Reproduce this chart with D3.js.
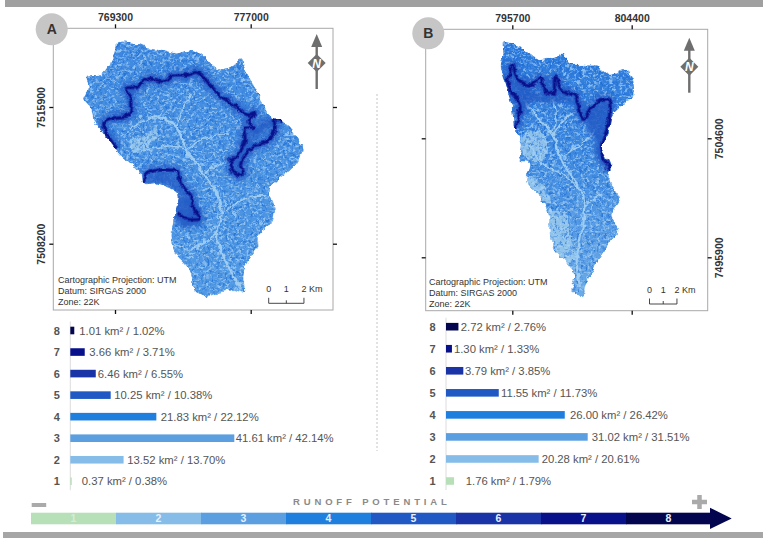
<!DOCTYPE html>
<html>
<head>
<meta charset="utf-8">
<script src="https://cdn.jsdelivr.net/npm/d3@7"></script>
<style>
  html, body { margin: 0; padding: 0; background: #fff; }
  svg { display: block; }
  text { font-family: "Liberation Sans", Arial, sans-serif; }
  .tick-label { font-size: 10.5px; font-weight: bold; fill: #333; }
  .note { font-size: 9px; fill: #333; }
  .bar-label { font-size: 11.3px; fill: #555; }
  .class-label { font-size: 11px; font-weight: bold; fill: #555; text-anchor: middle; }
</style>
</head>
<body>
<div id="chart"></div>
<script>
// classes, highest first (same order as the bars read top to bottom)
let classes = ["8", "7", "6", "5", "4", "3", "2", "1"];
let classColors = ["#03064f", "#08108a", "#1a34a8", "#2159c4", "#1f7fdf", "#5b9fe0", "#85bde8", "#b8e0b8"];

let areaA = [1.01, 3.66, 6.46, 10.25, 21.83, 41.61, 13.52, 0.37];
let shareA = [1.02, 3.71, 6.55, 10.38, 22.12, 42.14, 13.70, 0.38];
let areaB = [2.72, 1.30, 3.79, 11.55, 26.00, 31.02, 20.28, 1.76];
let shareB = [2.76, 1.33, 3.85, 11.73, 26.42, 31.51, 20.61, 1.79];

let eastTicksA = [769300, 777000];
let northTicksA = [7515900, 7508200];
let eastTicksB = [795700, 804400];
let northTicksB = [7504600, 7495900];

let notes = ["Cartographic Projection: UTM", "Datum: SIRGAS 2000", "Zone: 22K"];

// map features, km east / north of the first tick crossing
let outlineA = [[.09,3.63],[1.04,3.63],[1.8,3.4],[2.74,3.21],[3.5,3.03],[4.25,3.21],[4.82,3.03],[5.76,2.18],[6.52,2.18],[7.18,2.74],[7.37,1.99],[8.03,.96],[8.41,.02],[8.88,-.55],[9.54,-.83],[10.11,-1.39],[10.64,-2.43],[10.3,-3.18],[9.73,-3.74],[9.07,-4.3],[8.79,-4.68],[9.07,-5.81],[8.88,-6.56],[8.13,-7.22],[8.13,-7.88],[7.56,-8.63],[7.28,-9.57],[7.37,-10.42],[6.71,-10.32],[5.76,-10.51],[5.29,-10.66],[4.44,-10.32],[4.35,-9.57],[3.97,-8.91],[3.4,-8.25],[3.21,-7.13],[3.4,-6],[3.59,-4.96],[3.12,-4.59],[2.36,-4.31],[1.61,-4.31],[1.42,-3.74],[.66,-2.99],[.09,-2.43],[-.66,-1.49],[-1.13,-.92],[-1.42,.02],[-1.8,.39],[-1.51,1.15],[-1.61,1.67],[-.85,1.8],[-.28,2.46],[0,3.21]];
let ridgesA = [
  [[.09,-2.33],[-.47,-1.49],[-.62,-.83],[.09,-.58],[.76,-.45],[.95,.3],[.66,1.05],[1.23,1.11],[1.98,1.62],[2.74,1.43],[3.31,1.8],[4.06,1.8],[4.73,1.94],[5.39,1.24],[6.05,.58],[6.9,.02],[7.56,-.45],[7.94,-.32],[7.56,-.83],[7.84,-1.2],[7.37,-1.2],[7.37,-1.96],[6.9,-2.8],[6.52,-3.18],[6.99,-3.84],[7.28,-3.74],[7.18,-3.18],[7.84,-2.24],[8.6,-1.96],[9.07,-1.3],[9.07,-.7],[9.45,-.83]],
  [[1.61,-4.21],[1.8,-3.74],[2.74,-3.55],[3.5,-3.65],[3.78,-4.4],[4.35,-5.06],[4.44,-5.72],[4.82,-6.28],[3.97,-6.28],[3.59,-6]]
];
let deepA = [
  [[1.7,-4.2],[2.8,-3.7],[3.6,-4.4],[3.8,-5],[2.9,-4.4]],
  [[3.5,-5],[4.4,-5.1],[4.9,-6.3],[4.3,-6.8],[3.4,-6.4]],
  [[7.4,-2],[8.6,-1.3],[9,-.8],[8.4,-.6],[7.9,-1.2]]
];
let drainsA = [
  [[2.36,-.45],[3.5,-1.2],[4.06,-2.43],[5.01,-3.74],[5.76,-4.87],[6.05,-6],[5.76,-7.13],[6.33,-8.82],[7.18,-10.32]],
  [[4.06,-2.43],[5.3,-1.7],[6.5,-1.5]],
  [[6.05,-6],[7.3,-5.2],[8.6,-5]],
  [[3,-7.5],[4.2,-8],[5.76,-7.13]],
  [[3.5,-1.2],[3.9,0],[4.3,.8]],
  [[.8,-1.2],[2.36,-.45]],
  [[1.5,-2.5],[3.2,-2.2],[4.06,-2.43]],
  [[5.01,-3.74],[6.4,-3]]
];
let patchesA = [
  [[.85,-1.86],[1.61,-1.67],[2.36,-1.2],[2.36,-1.58],[1.8,-2.33],[1.04,-2.61]]
];

let outlineB = [[-.66,7],[.56,6.71],[1.29,6.22],[1.9,5.73],[2.99,5.98],[3.84,6.17],[4.08,5.49],[5.18,5.37],[6.15,5.25],[7.12,4.64],[8.21,5],[8.7,4.39],[8.7,3.05],[8.21,2.56],[7.36,1.83],[7,.37],[6.51,-.61],[7.12,-1.83],[7.12,-3.17],[7.85,-4.39],[7.24,-5.49],[7.73,-6.83],[7.24,-7.44],[6.39,-8.66],[5.78,-9.88],[5.3,-10.86],[5.18,-11.59],[4.33,-11.1],[4.57,-10.13],[3.96,-9.15],[2.87,-7.69],[2.62,-5.49],[2.02,-4.27],[1.04,-3.17],[1.04,-2.81],[1.29,-1.83],[.56,-1.59],[.68,-.37],[.19,.61],[-.05,2.32],[-.41,3.78],[-.85,5.25],[-.66,6.22]];
let ridgesB = [
  [[.19,.73],[.56,2.32],[-.29,3.9],[.02,5.37],[.44,4.27],[1.29,3.9],[2.14,4.39],[2.38,3.42],[2.99,3.29],[3.11,4.39],[3.6,3.54],[4.57,3.05],[5.18,1.46],[6.15,2.68],[7,2.81],[7,1.1],[6.51,-.61],[7.12,-2.32]]
];
let deepB = [
  [[5.4,1.3],[6.2,2.5],[6.9,2.6],[6.8,1.2],[6.3,-.5],[5.7,.4]],
  [[5.9,-.6],[6.5,-.7],[7,-2.1],[6.2,-1.5]],
  [[.3,1],[.6,2.4],[.2,3.8],[.3,4.2],[1.3,3.6],[2.5,3.1],[3.6,3.2],[4.5,2.7],[3,2.6],[1.5,2.6]]
];
let drainsB = [
  [[.8,2.81],[1.77,1.59],[2.99,.12],[3.47,-1.34],[4.93,-3.78],[5.3,-5],[4.93,-7.44],[4.69,-8.91],[4.93,-10.86]],
  [[2.99,.12],[3.9,1.5],[5,2]],
  [[3.47,-1.34],[5,-.5],[6,.5]],
  [[1.2,-.5],[2.3,-2],[3.47,-2.5],[4.93,-3.78]],
  [[5.3,-5],[6.5,-4]],
  [[2.99,3],[3.2,1.5],[2.99,.12]]
];
let patchesB = [
  [[1.04,.49],[2.26,.37],[2.5,-1.34],[1.04,-1.59],[.68,-.61]],
  [[1.17,-2.81],[2.26,-3.54],[2.75,-4.76],[2.02,-4.27],[1.04,-3.17]],
  [[2.75,-5.25],[3.96,-5.73],[4.2,-7.44],[4.69,-8.66],[3.96,-9.15],[2.87,-7.69]]
];

let width = 767, height = 540;

let svg = d3.select("#chart")
    .append("svg")
    .attr("width", width)
    .attr("height", height);

let defs = svg.append("defs");

// rough edges and relief texture for the runoff rasters
let rough = defs.append("filter").attr("id", "rough")
    .attr("color-interpolation-filters", "sRGB")
    .attr("x", "-5%").attr("y", "-5%").attr("width", "110%").attr("height", "110%");
rough.append("feTurbulence").attr("type", "fractalNoise").attr("baseFrequency", 0.13)
    .attr("numOctaves", 3).attr("seed", 4).attr("result", "n");
rough.append("feDisplacementMap").attr("in", "SourceGraphic").attr("in2", "n")
    .attr("scale", 6).attr("xChannelSelector", "R").attr("yChannelSelector", "G");
rough.append("feGaussianBlur").attr("stdDeviation", 0.35);

function grain(id, color, freq, seed, slope, offset) {
    let c = d3.color(color);
    let f = defs.append("filter").attr("id", id)
        .attr("color-interpolation-filters", "sRGB")
        .attr("x", 0).attr("y", 0).attr("width", "100%").attr("height", "100%");
    f.append("feTurbulence").attr("type", "fractalNoise").attr("baseFrequency", freq)
        .attr("numOctaves", 2).attr("seed", seed);
    f.append("feColorMatrix").attr("type", "matrix")
        .attr("values", `0 0 0 0 ${c.r / 255} 0 0 0 0 ${c.g / 255} 0 0 0 0 ${c.b / 255} ${slope} 0 0 0 ${offset}`);
}
grain("grainLight", "#a9d3f5", "0.3 0.42", 9, 4, -1.9);
grain("grainDark", "#1a68d2", "0.4 0.3", 21, 4, -1.95);

let gradA = defs.append("linearGradient").attr("id", "fillA").attr("x1", 0).attr("x2", 0).attr("y1", 0).attr("y2", 1);
gradA.append("stop").attr("offset", "0%").attr("stop-color", "#3f89e0");
gradA.append("stop").attr("offset", "100%").attr("stop-color", "#529ae4");
let gradB = defs.append("linearGradient").attr("id", "fillB").attr("x1", 0).attr("x2", 0).attr("y1", 0).attr("y2", 1);
gradB.append("stop").attr("offset", "0%").attr("stop-color", "#2a78dc");
gradB.append("stop").attr("offset", "45%").attr("stop-color", "#3f8ae0");
gradB.append("stop").attr("offset", "100%").attr("stop-color", "#6cabe8");

// page rules
svg.append("rect").attr("x", 5).attr("y", 0).attr("width", 758).attr("height", 7).attr("fill", "#a0a0a0");
svg.append("rect").attr("x", 3).attr("y", 532).attr("width", 760).attr("height", 6).attr("fill", "#a6a6a6");

// divider between the two panels
svg.append("line")
    .attr("x1", 377).attr("x2", 377).attr("y1", 94).attr("y2", 451)
    .attr("stroke", "#c4c4c4").attr("stroke-dasharray", "2,2");

function drawMap(o) {
    let x = d3.scaleLinear().domain(o.eastTicks).range(o.xPx);
    let y = d3.scaleLinear().domain(o.northTicks).range(o.yPx);
    // feature arrays are km from the first tick
    let kmX = d3.scaleLinear().domain([0, (o.eastTicks[1] - o.eastTicks[0]) / 1000]).range(o.xPx);
    let kmY = d3.scaleLinear().domain([0, -(o.northTicks[0] - o.northTicks[1]) / 1000]).range(o.yPx);
    let f = o.frame;

    let g = svg.append("g");

    let line = d3.line().x(d => kmX(d[0])).y(d => kmY(d[1])).curve(d3.curveCatmullRom);
    let closed = d3.line().x(d => kmX(d[0])).y(d => kmY(d[1])).curve(d3.curveCatmullRomClosed);

    defs.append("clipPath").attr("id", "clip" + o.id)
        .append("path").attr("d", closed(o.outline));
    defs.append("filter").attr("id", "halo" + o.id)
        .attr("filterUnits", "userSpaceOnUse")
        .attr("x", f.x0).attr("y", f.y0).attr("width", f.x1 - f.x0).attr("height", f.y1 - f.y0)
        .append("feGaussianBlur").attr("stdDeviation", 2.6);

    let raster = g.append("g").attr("filter", "url(#rough)")
        .append("g").attr("clip-path", "url(#clip" + o.id + ")");

    raster.append("path").attr("d", closed(o.outline)).attr("fill", "url(#fill" + o.id + ")");

    raster.selectAll(".patch").data(o.patches).enter().append("path")
        .attr("class", "patch").attr("d", d => closed(d))
        .attr("fill", "#96c8ec").attr("opacity", 0.9);

    raster.append("rect").attr("x", f.x0).attr("y", f.y0)
        .attr("width", f.x1 - f.x0).attr("height", f.y1 - f.y0)
        .attr("filter", "url(#grainDark)").attr("opacity", 0.65);
    raster.append("rect").attr("x", f.x0).attr("y", f.y0)
        .attr("width", f.x1 - f.x0).attr("height", f.y1 - f.y0)
        .attr("filter", "url(#grainLight)").attr("opacity", 0.75);

    raster.selectAll(".drain").data(o.drains).enter().append("path")
        .attr("class", "drain").attr("d", d => line(d)).attr("fill", "none")
        .attr("stroke", "#9fcdf2").attr("stroke-width", (d, i) => i == 0 ? 2.2 : 1.4);

    raster.selectAll(".deep").data(o.deep).enter().append("path")
        .attr("class", "deep").attr("d", d => closed(d))
        .attr("fill", classColors[3]).attr("opacity", 0.8)
        .attr("filter", "url(#halo" + o.id + ")");
    raster.selectAll(".halo").data(o.ridges).enter().append("path")
        .attr("class", "halo").attr("d", d => line(d)).attr("fill", "none")
        .attr("stroke", classColors[3]).attr("stroke-width", 10).attr("opacity", 0.85)
        .attr("filter", "url(#halo" + o.id + ")");
    raster.selectAll(".ridge6").data(o.ridges).enter().append("path")
        .attr("class", "ridge6").attr("d", d => line(d)).attr("fill", "none")
        .attr("stroke", classColors[2]).attr("stroke-width", 4);
    raster.selectAll(".ridge8").data(o.ridges).enter().append("path")
        .attr("class", "ridge8").attr("d", d => line(d)).attr("fill", "none")
        .attr("stroke", classColors[1]).attr("stroke-width", 1.8);

    // frame
    g.append("rect").attr("x", f.x0).attr("y", f.y0)
        .attr("width", f.x1 - f.x0).attr("height", f.y1 - f.y0)
        .attr("fill", "none").attr("stroke", "#a8a8a8").attr("stroke-width", 1);

    // graticule ticks on the four sides
    let axes = [
        [d3.axisTop(x).tickValues(o.eastTicks), 0, f.y0, true],
        [d3.axisBottom(x).tickValues(o.eastTicks), 0, f.y1, false],
        [d3.axisLeft(y).tickValues(o.northTicks), f.x0, 0, o.labelSide == "left"],
        [d3.axisRight(y).tickValues(o.northTicks), f.x1, 0, o.labelSide == "right"]
    ];
    axes.forEach(a => {
        let ax = g.append("g")
            .attr("transform", "translate(" + a[1] + "," + a[2] + ")")
            .call(a[0].tickSize(4).tickPadding(3).tickFormat(d3.format("d")));
        ax.select(".domain").remove();
        ax.selectAll("line").attr("stroke", "#111").attr("stroke-width", 1.3);
        if (!a[3]) ax.selectAll("text").remove();
        ax.selectAll("text")
            .attr("class", "tick-label");
    });
    // northing labels read sideways
    g.selectAll("text.tick-label")
        .filter(d => o.northTicks.includes(d))
        .attr("text-anchor", "middle").attr("dy", null)
        .attr("x", null).attr("y", null)
        .attr("transform", "translate(" + (o.labelSide == "left" ? -12.5 : 11.5) + ",0) rotate(-90)")
        .attr("dominant-baseline", "central");

    // badge
    g.append("circle").attr("cx", o.badge[0]).attr("cy", o.badge[1]).attr("r", 16).attr("fill", "#c6c6c6");
    g.append("text").attr("x", o.badge[0]).attr("y", o.badge[1] + 5)
        .attr("text-anchor", "middle").attr("font-size", 14).attr("font-weight", "bold").attr("fill", "#333")
        .text(o.id);

    // north arrow
    let n = o.north;
    let arrow = g.append("g").attr("transform", "translate(" + n[0] + "," + n[1] + ")");
    arrow.append("line").attr("y1", -22).attr("y2", 26).attr("stroke", "#6e6e6e").attr("stroke-width", 2.4);
    arrow.append("path").attr("d", "M0,-29L5.5,-16L-5.5,-16Z").attr("fill", "#6e6e6e");
    arrow.append("path").attr("d", "M0,-9L9,0L0,9L-9,0Z").attr("fill", "#6e6e6e");
    arrow.append("text").attr("y", 4.5).attr("text-anchor", "middle")
        .attr("font-size", 12).attr("font-weight", "bold").attr("font-style", "italic").attr("fill", "#fff")
        .text("N");

    // notes
    g.selectAll(".note").data(notes).enter().append("text")
        .attr("class", "note")
        .attr("x", o.noteX)
        .attr("y", (d, i) => o.noteY + i * 11)
        .text(d => d);

    // scale bar, uses the map scale
    let bar = kmX.copy().domain([0, 1]).range([0, kmX(1) - kmX(0)]);
    let sb = g.append("g").attr("transform", "translate(" + o.scaleBar[0] + "," + o.scaleBar[1] + ")");
    sb.append("path")
        .attr("d", "M0,-5.5V0H" + bar(2) + "V-5.5M" + bar(1) + ",0V-3")
        .attr("fill", "none").attr("stroke", "#333").attr("stroke-width", 0.9);
    sb.selectAll("text").data([0, 1, 2]).enter().append("text")
        .attr("x", d => bar(d)).attr("y", -11)
        .attr("text-anchor", "middle").attr("font-size", 9).attr("fill", "#333")
        .text(d => d);
    sb.append("text").attr("x", bar(2) + 5).attr("y", -11).attr("font-size", 9).attr("fill", "#333").text("Km");
}

drawMap({
    id: "A", eastTicks: eastTicksA, northTicks: northTicksA,
    xPx: [115, 250.7], yPx: [107, 243.7],
    frame: {x0: 53.3, y0: 28.3, x1: 333, y1: 310},
    labelSide: "left", badge: [51.7, 29.3], north: [316.7, 63],
    noteX: 58, noteY: 283, scaleBar: [268.7, 303.3],
    outline: outlineA, ridges: ridgesA, deep: deepA, drains: drainsA, patches: patchesA
});

drawMap({
    id: "B", eastTicks: eastTicksB, northTicks: northTicksB,
    xPx: [512.3, 631.7], yPx: [138.3, 257.3],
    frame: {x0: 425.7, y0: 29.3, x1: 707.7, y1: 310.7},
    labelSide: "right", badge: [428.3, 33.3], north: [689.3, 66.7],
    noteX: 429, noteY: 285, scaleBar: [649.5, 304],
    outline: outlineB, ridges: ridgesB, deep: deepB, drains: drainsB, patches: patchesB
});

function drawBars(o) {
    let x = d3.scaleLinear().domain([0, o.max]).range([o.x0, o.x1]);
    let y = d3.scalePoint().domain(classes).range(o.yRange);
    let g = svg.append("g");

    g.append("line")
        .attr("x1", o.x0).attr("x2", o.x0).attr("y1", o.yRange[0] - 9).attr("y2", o.yRange[1] + 9)
        .attr("stroke", "#dcdcdc");

    g.selectAll(".class-label").data(classes).enter().append("text")
        .attr("class", "class-label")
        .attr("x", o.x0 - 13.5)
        .attr("y", d => y(d) + 4)
        .text(d => d);

    g.selectAll(".bar").data(o.area).enter().append("rect")
        .attr("class", "bar")
        .attr("x", o.x0)
        .attr("y", (d, i) => y(classes[i]) - 3.8)
        .attr("width", d => x(d) - o.x0)
        .attr("height", 7.6)
        .attr("fill", (d, i) => classColors[i]);

    g.selectAll(".bar-label").data(o.area).enter().append("text")
        .attr("class", "bar-label")
        .attr("x", (d, i) => x(d) + o.gaps[i])
        .attr("y", (d, i) => y(classes[i]) + 4)
        .text((d, i) => d.toFixed(2) + " km² / " + o.share[i].toFixed(2) + "%");
}

drawBars({area: areaA, share: shareA, max: 41.61, x0: 70.3, x1: 234.3, yRange: [330.5, 481.3],
    gaps: [5, 4.6, 2, 3.6, 4.4, 1.4, 3.7, 10]});
drawBars({area: areaB, share: shareB, max: 31.02, x0: 446, x1: 587.7, yRange: [326.7, 481],
    gaps: [2.3, 2, 1.7, 2.2, 5.2, 4, 3, 11.7]});

// legend ramp, low to high
let ramp = classes.slice().reverse();
let rampX = d3.scaleBand().domain(ramp).range([31, 711]);
let rampColor = d3.scaleOrdinal().domain(classes).range(classColors);
let legend = svg.append("g");

legend.append("path")
    .attr("d", "M" + (rampX.range()[1] - 1) + ",507.7L731.7,518.5L" + (rampX.range()[1] - 1) + ",529Z")
    .attr("fill", rampColor("8"));

legend.selectAll("rect").data(ramp).enter().append("rect")
    .attr("x", d => rampX(d))
    .attr("y", 512.7)
    .attr("width", rampX.bandwidth() + 0.5)
    .attr("height", 11.6)
    .attr("fill", d => rampColor(d));

legend.selectAll("text").data(ramp).enter().append("text")
    .attr("x", d => rampX(d) + rampX.bandwidth() / 2)
    .attr("y", 522.3)
    .attr("text-anchor", "middle")
    .attr("font-size", 10.5)
    .attr("font-weight", "bold")
    .attr("fill", d => d == "1" ? "#d6ecd6" : "#e8f0fa")
    .text(d => d);

svg.append("text")
    .attr("x", 293).attr("y", 505)
    .attr("font-size", 9.5).attr("font-weight", "bold").attr("fill", "#8a8a8a")
    .attr("letter-spacing", 3.85)
    .text("RUNOFF  POTENTIAL");

svg.append("rect").attr("x", 31.7).attr("y", 503).attr("width", 14.5).attr("height", 4).attr("fill", "#aaa");
svg.append("path").attr("d", "M692,502H707M699.5,495V509").attr("stroke", "#aaa").attr("stroke-width", 4.5);
</script>
</body>
</html>
